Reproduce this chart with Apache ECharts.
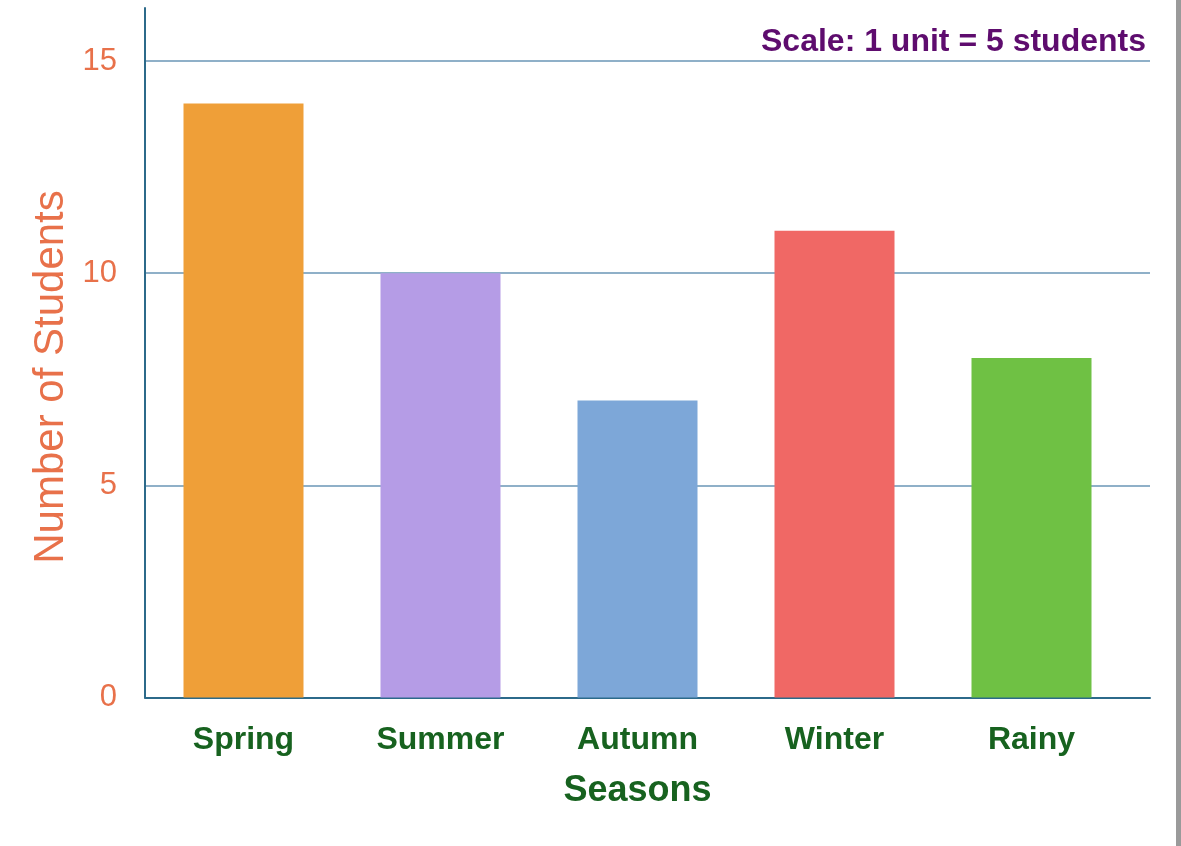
<!DOCTYPE html>
<html>
<head>
<meta charset="utf-8">
<script src="https://cdn.jsdelivr.net/npm/echarts@6/dist/echarts.min.js"></script>
<style>
	html, body { margin: 0; padding: 0; background: #ffffff; }
	#chart { width: 1181px; height: 846px; }
</style>
</head>
<body>
<div id="chart"></div>
<script>
var seasons = ['Spring', 'Summer', 'Autumn', 'Winter', 'Rainy'];
var students = [14, 10, 7, 11, 8];
var barColors = ['#EF9F38', '#B59CE6', '#7DA7D8', '#F06865', '#6FC144'];
var yTicks = [0, 5, 10, 15];

var fontName = '"Liberation Sans", Arial, sans-serif';
var axisBlue = '#2C6A8A';
var gridBlue = '#8FB0C8';
var orange = '#E8714A';
var green = '#17621F';

var barData = [];
for (var i = 0; i < students.length; i++) {
	barData.push({
		value: students[i],
		itemStyle: { color: barColors[i] }
	});
}

var myChart = echarts.init(document.getElementById('chart'));
var option = {
	backgroundColor: '#ffffff',
	animation: false,
	grid: [{
		left: 145,
		right: 31,
		top: 8,
		bottom: 148.5
	}, {
		left: 145,
		right: 51,
		top: 8,
		bottom: 148.5
	}],
	xAxis: [{
		type: 'category',
		gridIndex: 0,
		data: seasons,
		axisLine: { show: true, lineStyle: { color: axisBlue, width: 2 } },
		axisTick: { show: false },
		axisLabel: { show: false }
	}, {
		type: 'category',
		gridIndex: 1,
		data: seasons,
		axisLine: { show: false },
		axisTick: { show: false },
		axisLabel: {
			margin: 27,
			color: green,
			fontSize: 32,
			fontWeight: 'bold',
			fontFamily: fontName
		},
		name: 'Seasons',
		nameLocation: 'middle',
		nameGap: 76,
		nameTextStyle: {
			color: green,
			fontSize: 36,
			fontWeight: 'bold',
			fontFamily: fontName
		}
	}],
	yAxis: [{
		type: 'value',
		gridIndex: 0,
		min: 0,
		max: 16.25,
		interval: 5,
		axisLine: { show: true, lineStyle: { color: axisBlue, width: 2 } },
		axisTick: { show: false },
		axisLabel: {
			margin: 28,
			color: orange,
			fontSize: 31,
			fontFamily: fontName,
			showMaxLabel: false,
			formatter: function(v) {
				return yTicks.indexOf(v) >= 0 ? String(v) : '';
			}
		},
		splitLine: {
			show: true,
			showMinLine: false,
			showMaxLine: false,
			lineStyle: { color: gridBlue, width: 2 }
		}
	}, {
		type: 'value',
		gridIndex: 1,
		min: 0,
		max: 16.25,
		interval: 5,
		show: false,
		splitLine: { show: false }
	}],
	series: [{
		type: 'bar',
		xAxisIndex: 1,
		yAxisIndex: 1,
		barWidth: 120,
		data: barData
	}],
	graphic: [{
		type: 'text',
		x: 51,
		y: 377,
		rotation: Math.PI / 2,
		style: {
			text: 'Number of Students',
			fill: orange,
			font: '42px ' + fontName,
			align: 'center',
			verticalAlign: 'middle'
		}
	}, {
		type: 'text',
		x: 1146,
		y: 42,
		style: {
			text: 'Scale: 1 unit = 5 students',
			fill: '#5E0C6E',
			font: 'bold 32px ' + fontName,
			align: 'right',
			verticalAlign: 'middle'
		}
	}, {
		type: 'rect',
		shape: { x: 1176, y: 0, width: 5, height: 846 },
		style: { fill: '#9A9A9A' }
	}]
};
myChart.setOption(option);
</script>
</body>
</html>
